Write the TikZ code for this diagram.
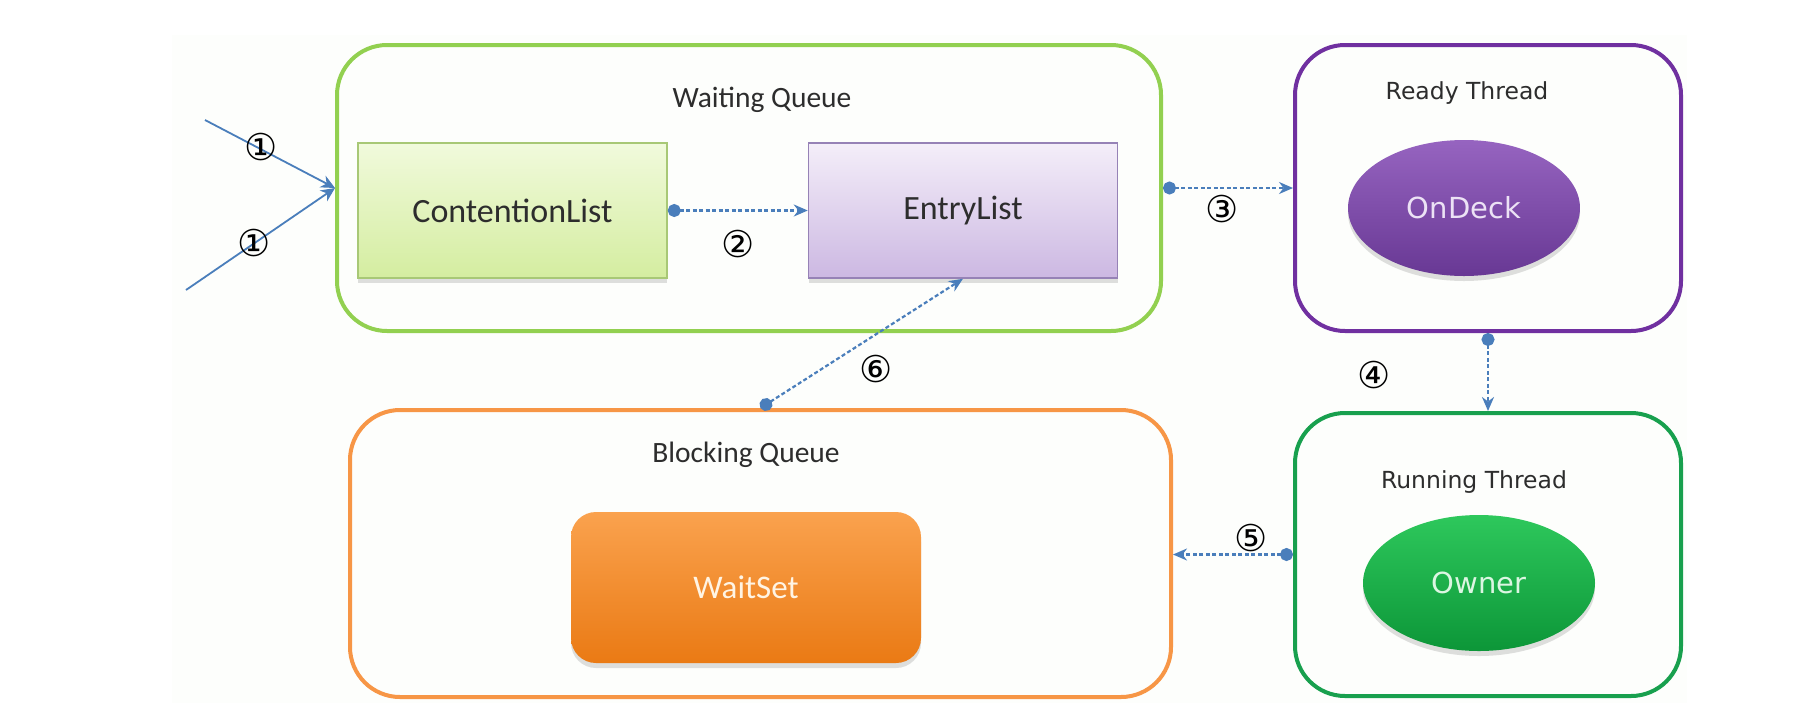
\documentclass[tikz,border=0pt]{standalone}
\usepackage{fontspec}
\setmainfont{Carlito}
\newfontfamily\vfont{DejaVu Sans}
\usetikzlibrary{arrows.meta,shapes.geometric,shadows}
\definecolor{bgcol}{RGB}{253,254,252}
\definecolor{wqgreen}{RGB}{146,208,80}
\definecolor{rtpurple}{RGB}{112,48,160}
\definecolor{rngreen}{RGB}{24,160,78}
\definecolor{bqorange}{RGB}{247,150,70}
\definecolor{arrowblue}{RGB}{74,126,187}
\definecolor{txtgray}{RGB}{45,45,45}
\definecolor{cltop}{RGB}{241,250,220}
\definecolor{clbot}{RGB}{212,237,160}
\definecolor{clborder}{RGB}{168,200,118}
\definecolor{eltop}{RGB}{244,238,249}
\definecolor{elbot}{RGB}{204,184,226}
\definecolor{elborder}{RGB}{150,130,182}
\definecolor{odtop}{RGB}{150,100,192}
\definecolor{odbot}{RGB}{104,56,148}
\definecolor{owtop}{RGB}{46,200,92}
\definecolor{owbot}{RGB}{12,150,56}
\definecolor{wstop}{RGB}{250,162,78}
\definecolor{wsbot}{RGB}{234,122,20}
\tikzset{
  outerbox/.style={draw, line width=4pt, rounded corners=50pt, inner sep=0pt},
  title/.style={text=txtgray, font=\fontsize{29.5}{32}\selectfont},
  vtitle/.style={text=txtgray, font=\vfont\fontsize{23.5}{26}\selectfont},
  listbox/.style={draw, line width=1.5pt, minimum width=309pt, minimum height=135pt,
    text=txtgray, font=\fontsize{34}{38}\selectfont,
    drop shadow={shadow xshift=0pt, shadow yshift=-5pt, opacity=0.25}},
  blob/.style={ellipse, minimum width=232pt, minimum height=136pt,
    font=\vfont\fontsize{29}{32}\selectfont,
    drop shadow={shadow xshift=0pt, shadow yshift=-5pt, opacity=0.25}},
  numlabel/.style={text=black, font=\vfont\fontsize{37}{40}\selectfont},
  dasharrow/.style={draw=arrowblue, line width=2.2pt, dash pattern=on 4pt off 2.5pt,
    {Circle[length=13pt]}-{Stealth[length=14pt,width=12pt]}},
  solidarrow/.style={draw=arrowblue, line width=1.8pt, -{Stealth[length=14pt,width=13pt]}}
}
\begin{document}
\begin{tikzpicture}[x=1pt,y=-1pt]
\useasboundingbox (0,0) rectangle (1804,710);
\fill[bgcol] (172,35) rectangle (1687,703);

% Waiting Queue
\node[outerbox, draw=wqgreen, minimum width=824pt, minimum height=286pt] (wq) at (749,188) {};
\node[title] (wqt) at (762,100) {Waiting Queue};
\node[listbox, draw=clborder, top color=cltop, bottom color=clbot] (cl) at (512.5,210.5) {ContentionList};
\node[listbox, draw=elborder, top color=eltop, bottom color=elbot] (el) at (963,210.5) {EntryList};

% Ready Thread
\node[outerbox, draw=rtpurple, minimum width=386pt, minimum height=286pt] (rt) at (1488,188) {};
\node[vtitle] (rtt) at (1467,93) {Ready Thread};
\node[blob, top color=odtop, bottom color=odbot, text={rgb,255:red,236;green,226;blue,245}] (od) at (1464,208) {OnDeck};

% Running Thread
\node[outerbox, draw=rngreen, minimum width=386pt, minimum height=283pt] (rn) at (1488,554.5) {};
\node[vtitle] (rnt) at (1474,482) {Running Thread};
\node[blob, top color=owtop, bottom color=owbot, text={rgb,255:red,220;green,246;blue,226}] (ow) at (1479,583) {Owner};

% Blocking Queue
\node[outerbox, draw=bqorange, minimum width=821pt, minimum height=287pt] (bq) at (760.5,553.5) {};
\node[title] (bqt) at (746,455) {Blocking Queue};
\node[rounded corners=25pt, minimum width=350pt, minimum height=151pt, top color=wstop, bottom color=wsbot,
  text={rgb,255:red,255;green,244;blue,228}, font=\fontsize{33}{36}\selectfont,
  drop shadow={shadow xshift=0pt, shadow yshift=-5pt, opacity=0.25}] (ws) at (746,587.5) {WaitSet};

% connectors
\coordinate (ina) at (205,120);
\coordinate (inb) at (186,290);
\draw[solidarrow] (ina) -- (wq.west);
\draw[solidarrow] (inb) -- (wq.west);
\node[numlabel] (n1a) at (261,147) {①};
\node[numlabel] (n1b) at (254,243) {①};

\draw[dasharrow] (cl.east) -- (el.west);
\node[numlabel] (n2) at (738,244) {②};

\draw[dasharrow] (wq.east) -- (rt.west);
\node[numlabel] (n3) at (1222,209) {③};

\draw[dasharrow] (rt.south) -- (rn.north);
\node[numlabel] (n4) at (1374,375) {④};

\draw[dasharrow] (rn.west) -- (rn.west -| bq.east);
\node[numlabel] (n5) at (1251,538) {⑤};

\draw[dasharrow] (bq.north) -- (el.south);
\node[numlabel] (n6) at (876,369) {⑥};
\end{tikzpicture}
\end{document}
